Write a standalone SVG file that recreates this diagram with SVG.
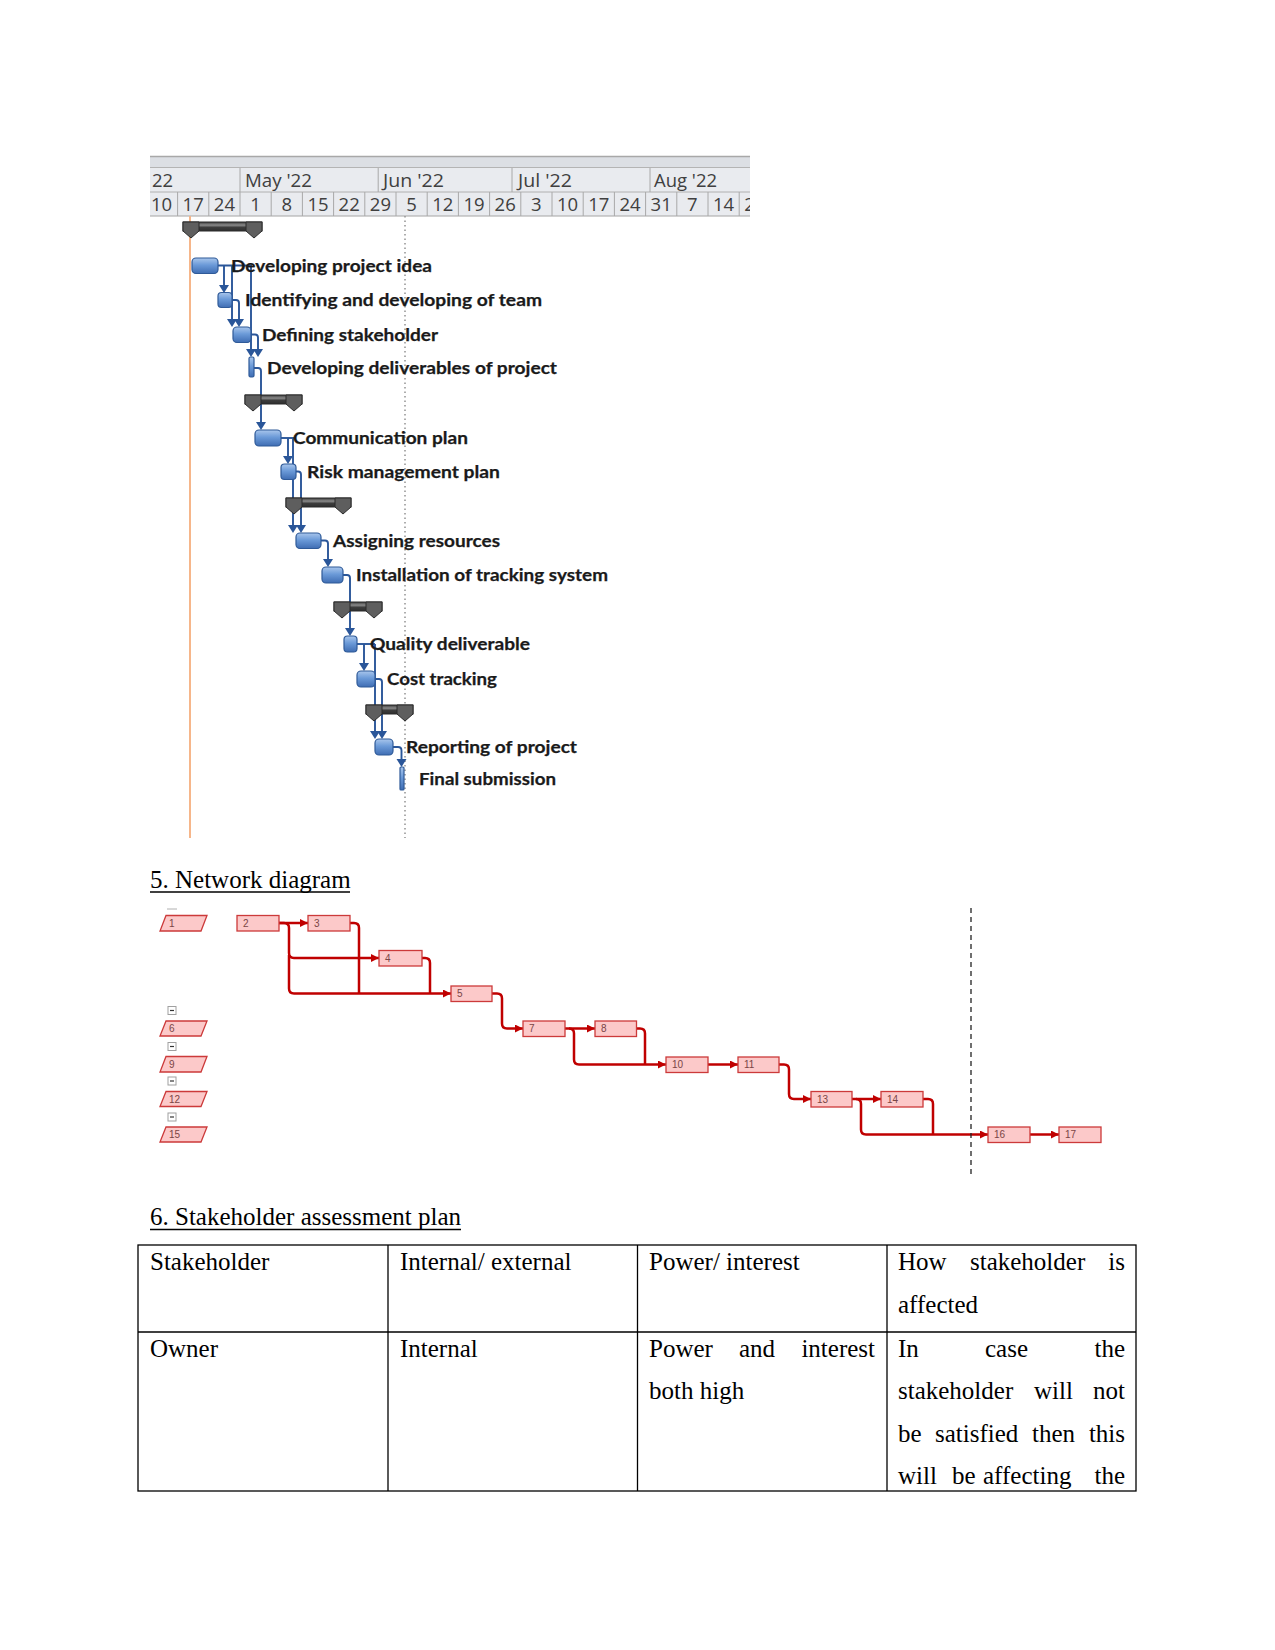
<svg xmlns="http://www.w3.org/2000/svg" width="1275" height="1650" viewBox="0 0 1275 1650">
<defs>
<style>
.hdr{font-family:"Open Sans","Liberation Sans",sans-serif;font-size:18.5px;fill:#404040}
.day{text-anchor:middle}
.tl{font-family:Lato,"Liberation Sans",sans-serif;font-size:17.5px;font-weight:700;fill:#1a1a1a;stroke:#1a1a1a;stroke-width:0.25}
.bar{fill:url(#bg);stroke:#2f5a98;stroke-width:1.2}
.gc{fill:none;stroke:#2a5699;stroke-width:1.9}
.ga{fill:#2a5699}
.sumbar{fill:url(#sg);stroke:#2b2b2b;stroke-width:1}
.cap{fill:#5e5e5e;stroke:#2b2b2b;stroke-width:1}
.nd{fill:#fcc9c9;stroke:#cc3a3a;stroke-width:1.3}
.nt{font-family:"Liberation Sans",Arial,sans-serif;font-size:10px;fill:#7a4545}
.nc{fill:none;stroke:#c00000;stroke-width:2.5}
.mb{fill:#fff;stroke:#a0a0a0;stroke-width:1}
.tt{font-family:"Liberation Serif","Times New Roman",serif;font-size:25px;fill:#000}
.end{text-anchor:end}
.tb{stroke:#000;stroke-width:1.3;fill:none}
</style>
<linearGradient id="bg" x1="0" y1="0" x2="0" y2="1">
<stop offset="0" stop-color="#a9c6ec"/>
<stop offset="0.45" stop-color="#6b9ad8"/>
<stop offset="1" stop-color="#3f6db3"/>
</linearGradient>
<linearGradient id="sg" x1="0" y1="0" x2="0" y2="1">
<stop offset="0" stop-color="#3a3a3a"/>
<stop offset="0.35" stop-color="#8a8a8a"/>
<stop offset="0.6" stop-color="#3c3c3c"/>
<stop offset="1" stop-color="#2e2e2e"/>
</linearGradient>
<marker id="ra" markerWidth="10" markerHeight="10" refX="8" refY="4" orient="auto" markerUnits="userSpaceOnUse">
<path d="M0,0 L8,4 L0,8 Z" fill="#c00000"/>
</marker>
<clipPath id="hc"><rect x="150" y="150" width="600" height="70"/></clipPath>
</defs>
<rect width="1275" height="1650" fill="#fff"/>

<!-- Gantt header -->
<g id="gantt-header" clip-path="url(#hc)">
<rect x="150" y="156" width="600" height="60" fill="#e9ebef"/>
<rect x="150" y="156" width="600" height="11" fill="#dcdfe4"/>
<line x1="150" y1="156.5" x2="750" y2="156.5" stroke="#a8a8a8" stroke-width="1.5"/>
<line x1="150" y1="167.5" x2="750" y2="167.5" stroke="#b4b4b4"/>
<line x1="150" y1="192" x2="750" y2="192" stroke="#b0b0b0"/>
<line x1="150" y1="216" x2="750" y2="216" stroke="#a4a4a4"/>
<g stroke="#a8a8a8" stroke-width="1">
<line x1="240" y1="168" x2="240" y2="192"/>
<line x1="378.2" y1="168" x2="378.2" y2="192"/>
<line x1="512" y1="168" x2="512" y2="192"/>
<line x1="650" y1="168" x2="650" y2="192"/>
<line x1="177.6" y1="192" x2="177.6" y2="216"/>
<line x1="208.8" y1="192" x2="208.8" y2="216"/>
<line x1="240" y1="192" x2="240" y2="216"/>
<line x1="271.2" y1="192" x2="271.2" y2="216"/>
<line x1="302.4" y1="192" x2="302.4" y2="216"/>
<line x1="333.6" y1="192" x2="333.6" y2="216"/>
<line x1="364.8" y1="192" x2="364.8" y2="216"/>
<line x1="396" y1="192" x2="396" y2="216"/>
<line x1="427.2" y1="192" x2="427.2" y2="216"/>
<line x1="458.4" y1="192" x2="458.4" y2="216"/>
<line x1="489.6" y1="192" x2="489.6" y2="216"/>
<line x1="520.8" y1="192" x2="520.8" y2="216"/>
<line x1="552" y1="192" x2="552" y2="216"/>
<line x1="583.2" y1="192" x2="583.2" y2="216"/>
<line x1="614.4" y1="192" x2="614.4" y2="216"/>
<line x1="645.6" y1="192" x2="645.6" y2="216"/>
<line x1="676.8" y1="192" x2="676.8" y2="216"/>
<line x1="708" y1="192" x2="708" y2="216"/>
<line x1="739.2" y1="192" x2="739.2" y2="216"/>
</g>
<text class="hdr" x="152" y="187">22</text>
<text class="hdr" x="245" y="187" textLength="67" lengthAdjust="spacingAndGlyphs">May '22</text>
<text class="hdr" x="383" y="187" textLength="61" lengthAdjust="spacingAndGlyphs">Jun '22</text>
<text class="hdr" x="518" y="187" textLength="54" lengthAdjust="spacingAndGlyphs">Jul '22</text>
<text class="hdr" x="654" y="187" textLength="63" lengthAdjust="spacingAndGlyphs">Aug '22</text>
<g class="hdr day">
<text x="161.5" y="210.5">10</text>
<text x="193.2" y="210.5">17</text>
<text x="224.4" y="210.5">24</text>
<text x="255.6" y="210.5">1</text>
<text x="286.8" y="210.5">8</text>
<text x="318" y="210.5">15</text>
<text x="349.2" y="210.5">22</text>
<text x="380.4" y="210.5">29</text>
<text x="411.6" y="210.5">5</text>
<text x="442.8" y="210.5">12</text>
<text x="474" y="210.5">19</text>
<text x="505.2" y="210.5">26</text>
<text x="536.4" y="210.5">3</text>
<text x="567.6" y="210.5">10</text>
<text x="598.8" y="210.5">17</text>
<text x="630" y="210.5">24</text>
<text x="661.2" y="210.5">31</text>
<text x="692.4" y="210.5">7</text>
<text x="723.6" y="210.5">14</text>
<text x="754.8" y="210.5">21</text>
</g>
</g>

<!-- Gantt guide lines -->
<line x1="190" y1="216" x2="190" y2="838" stroke="#f6b68a" stroke-width="2"/>
<line x1="405" y1="216" x2="405" y2="838" stroke="#999" stroke-width="1.6" stroke-dasharray="1.5 3"/>

<!-- Gantt connectors -->
<g id="gantt-connectors">
<path class="gc" d="M218,265.5 H252"/>
<path class="gc" d="M224,265.5 V286"/>
<path class="gc" d="M232,265.5 V320"/>
<path class="gc" d="M251,265.5 V350"/>
<path class="gc" d="M232,300 H236 Q239,300 239,303 V320"/>
<path class="gc" d="M251,334.5 H255 Q258,334.5 258,337.5 V350"/>
<path class="gc" d="M254,368 H258 Q261,368 261,371 V423"/>
<path class="gc" d="M281,438 H294"/>
<path class="gc" d="M288,438 V457"/>
<path class="gc" d="M293,438 V526"/>
<path class="gc" d="M296,471.5 H298 Q301,471.5 301,474.5 V526"/>
<path class="gc" d="M321,540.5 H325 Q328,540.5 328,543.5 V560"/>
<path class="gc" d="M343,575 H347 Q350,575 350,578 V629"/>
<path class="gc" d="M357,644 H375"/>
<path class="gc" d="M364,644 V664"/>
<path class="gc" d="M375,644 V732"/>
<path class="gc" d="M375,679 H379 Q382,679 382,682 V732"/>
<path class="gc" d="M393,747 H398 Q401.5,747 401.5,750.5 V760"/>
<polygon class="ga" points="219,285 229,285 224,293"/>
<polygon class="ga" points="227,319 237,319 232,327"/>
<polygon class="ga" points="234,319 244,319 239,327"/>
<polygon class="ga" points="246,349 256,349 251,357"/>
<polygon class="ga" points="253,349 263,349 258,357"/>
<polygon class="ga" points="256,422 266,422 261,430"/>
<polygon class="ga" points="283,456 293,456 288,464"/>
<polygon class="ga" points="288,525 298,525 293,533"/>
<polygon class="ga" points="296,525 306,525 301,533"/>
<polygon class="ga" points="323,559 333,559 328,567"/>
<polygon class="ga" points="345,628 355,628 350,636"/>
<polygon class="ga" points="359,663 369,663 364,671"/>
<polygon class="ga" points="370,731 380,731 375,739"/>
<polygon class="ga" points="377,731 387,731 382,739"/>
<polygon class="ga" points="396.5,759 406.5,759 401.5,767"/>
</g>

<!-- Gantt summary bars -->
<g id="summary-1">
<rect class="sumbar" x="183" y="222" width="79" height="9"/>
<path class="cap" d="M183,222 H199 V231 L191,238 L183,231 Z"/>
<path class="cap" d="M246,222 H262 V231 L254,238 L246,231 Z"/>
</g>
<g id="summary-2">
<rect class="sumbar" x="245" y="395" width="57" height="9"/>
<path class="cap" d="M245,395 H261 V404 L253,411 L245,404 Z"/>
<path class="cap" d="M286,395 H302 V404 L294,411 L286,404 Z"/>
</g>
<g id="summary-3">
<rect class="sumbar" x="286" y="498" width="65" height="9"/>
<path class="cap" d="M286,498 H302 V507 L294,514 L286,507 Z"/>
<path class="cap" d="M335,498 H351 V507 L343,514 L335,507 Z"/>
</g>
<g id="summary-4">
<rect class="sumbar" x="334" y="602" width="48" height="9"/>
<path class="cap" d="M334,602 H350 V611 L342,618 L334,611 Z"/>
<path class="cap" d="M366,602 H382 V611 L374,618 L366,611 Z"/>
</g>
<g id="summary-5">
<rect class="sumbar" x="366" y="705" width="47" height="9"/>
<path class="cap" d="M366,705 H382 V714 L374,721 L366,714 Z"/>
<path class="cap" d="M397,705 H413 V714 L405,721 L397,714 Z"/>
</g>

<!-- Gantt tasks -->
<g id="task-developing-project-idea">
<rect class="bar" x="192" y="258" width="26" height="15.5" rx="4"/>
<text class="tl" x="231" y="271.5" textLength="201" lengthAdjust="spacingAndGlyphs">Developing project idea</text>
</g>
<g id="task-identifying-team">
<rect class="bar" x="218" y="292.5" width="14" height="15" rx="3.5"/>
<text class="tl" x="245" y="306" textLength="297" lengthAdjust="spacingAndGlyphs">Identifying and developing of team</text>
</g>
<g id="task-defining-stakeholder">
<rect class="bar" x="233" y="327" width="18" height="15.5" rx="4"/>
<text class="tl" x="262" y="340.5" textLength="176" lengthAdjust="spacingAndGlyphs">Defining stakeholder</text>
</g>
<g id="task-developing-deliverables">
<rect class="bar" x="249" y="357" width="5" height="20" rx="1.5"/>
<text class="tl" x="267" y="373.5" textLength="290" lengthAdjust="spacingAndGlyphs">Developing deliverables of project</text>
</g>
<g id="task-communication-plan">
<rect class="bar" x="255" y="430" width="26" height="16" rx="4"/>
<text class="tl" x="293" y="444" textLength="175" lengthAdjust="spacingAndGlyphs">Communication plan</text>
</g>
<g id="task-risk-management-plan">
<rect class="bar" x="281" y="464" width="15" height="15.5" rx="3.5"/>
<text class="tl" x="307" y="477.5" textLength="193" lengthAdjust="spacingAndGlyphs">Risk management plan</text>
</g>
<g id="task-assigning-resources">
<rect class="bar" x="296" y="533" width="25" height="15.5" rx="4"/>
<text class="tl" x="333" y="546.5" textLength="167" lengthAdjust="spacingAndGlyphs">Assigning resources</text>
</g>
<g id="task-installation-tracking">
<rect class="bar" x="322" y="567" width="21" height="16" rx="4"/>
<text class="tl" x="356" y="581" textLength="252" lengthAdjust="spacingAndGlyphs">Installation of tracking system</text>
</g>
<g id="task-quality-deliverable">
<rect class="bar" x="344" y="636" width="13" height="16" rx="3.5"/>
<text class="tl" x="370" y="650" textLength="160" lengthAdjust="spacingAndGlyphs">Quality deliverable</text>
</g>
<g id="task-cost-tracking">
<rect class="bar" x="357" y="671" width="18" height="16" rx="4"/>
<text class="tl" x="387" y="685" textLength="110" lengthAdjust="spacingAndGlyphs">Cost tracking</text>
</g>
<g id="task-reporting">
<rect class="bar" x="375" y="739" width="18" height="16" rx="4"/>
<text class="tl" x="406" y="753" textLength="171" lengthAdjust="spacingAndGlyphs">Reporting of project</text>
</g>
<g id="task-final-submission">
<rect class="bar" x="400" y="767" width="4" height="23" rx="1"/>
<text class="tl" x="419" y="785" textLength="137" lengthAdjust="spacingAndGlyphs">Final submission</text>
</g>

<!-- Section 5 heading -->
<g id="heading-network">
<text class="tt" x="150" y="887.5">5. Network diagram</text>
<line x1="150" y1="892" x2="350" y2="892" stroke="#000" stroke-width="1.4"/>
</g>

<!-- Network connectors -->
<g id="network-connectors">
<path class="nc" d="M279,923 H308" marker-end="url(#ra)"/>
<path class="nc" d="M279,923 H284 Q289,923 289,928 V953 Q289,958 294,958 H379" marker-end="url(#ra)"/>
<path class="nc" d="M289,955 V988.5 Q289,993.5 294,993.5 H451" marker-end="url(#ra)"/>
<path class="nc" d="M350,923 H354 Q359,923 359,928 V993.5"/>
<path class="nc" d="M422,958 H425 Q430,958 430,963 V993.5"/>
<path class="nc" d="M492,993.5 H497 Q502,993.5 502,998.5 V1023.5 Q502,1028.5 507,1028.5 H523" marker-end="url(#ra)"/>
<path class="nc" d="M565,1028.5 H595" marker-end="url(#ra)"/>
<path class="nc" d="M569,1028.5 Q574,1028.5 574,1033.5 V1059.5 Q574,1064.5 579,1064.5 H666" marker-end="url(#ra)"/>
<path class="nc" d="M636.5,1028.5 H640 Q645,1028.5 645,1033.5 V1064.5"/>
<path class="nc" d="M708,1064.5 H738" marker-end="url(#ra)"/>
<path class="nc" d="M779,1064.5 H784 Q789,1064.5 789,1069.5 V1094 Q789,1099 794,1099 H811" marker-end="url(#ra)"/>
<path class="nc" d="M852,1099 H881" marker-end="url(#ra)"/>
<path class="nc" d="M856,1099 Q861,1099 861,1104 V1129.5 Q861,1134.5 866,1134.5 H988" marker-end="url(#ra)"/>
<path class="nc" d="M923,1099 H928 Q933,1099 933,1104 V1134.5"/>
<path class="nc" d="M1030,1134.5 H1059" marker-end="url(#ra)"/>
</g>
<line id="status-date" x1="971" y1="908" x2="971" y2="1176" stroke="#222" stroke-width="1.3" stroke-dasharray="5 4"/>

<!-- Network left column -->
<line x1="167" y1="909" x2="177" y2="909" stroke="#b0b0b0" stroke-width="1"/>
<g id="net-node-1">
<polygon class="nd" points="166,915.5 207,915.5 201,931 160,931"/>
<text class="nt" x="169" y="926.5">1</text>
</g>
<g id="net-collapse-6">
<rect class="mb" x="168" y="1006.5" width="8" height="8"/>
<line x1="170" y1="1010.5" x2="174" y2="1010.5" stroke="#333" stroke-width="1.2"/>
</g>
<g id="net-node-6">
<polygon class="nd" points="166,1021 207,1021 201,1036 160,1036"/>
<text class="nt" x="169" y="1032">6</text>
</g>
<g id="net-collapse-9">
<rect class="mb" x="168" y="1042.5" width="8" height="8"/>
<line x1="170" y1="1046.5" x2="174" y2="1046.5" stroke="#333" stroke-width="1.2"/>
</g>
<g id="net-node-9">
<polygon class="nd" points="166,1056.5 207,1056.5 201,1072 160,1072"/>
<text class="nt" x="169" y="1068">9</text>
</g>
<g id="net-collapse-12">
<rect class="mb" x="168" y="1077" width="8" height="8"/>
<line x1="170" y1="1081" x2="174" y2="1081" stroke="#333" stroke-width="1.2"/>
</g>
<g id="net-node-12">
<polygon class="nd" points="166,1091.5 207,1091.5 201,1106.5 160,1106.5"/>
<text class="nt" x="169" y="1102.5">12</text>
</g>
<g id="net-collapse-15">
<rect class="mb" x="168" y="1113" width="8" height="8"/>
<line x1="170" y1="1117" x2="174" y2="1117" stroke="#333" stroke-width="1.2"/>
</g>
<g id="net-node-15">
<polygon class="nd" points="166,1127 207,1127 201,1142 160,1142"/>
<text class="nt" x="169" y="1138">15</text>
</g>

<!-- Network nodes -->
<g id="net-node-2"><rect class="nd" x="237" y="915.5" width="42" height="15.5"/><text class="nt" x="243" y="926.5">2</text></g>
<g id="net-node-3"><rect class="nd" x="308" y="915.5" width="42" height="15.5"/><text class="nt" x="314" y="926.5">3</text></g>
<g id="net-node-4"><rect class="nd" x="379" y="950.5" width="43" height="15.5"/><text class="nt" x="385" y="961.5">4</text></g>
<g id="net-node-5"><rect class="nd" x="451" y="986" width="41" height="15.5"/><text class="nt" x="457" y="997">5</text></g>
<g id="net-node-7"><rect class="nd" x="523" y="1021" width="42" height="15.5"/><text class="nt" x="529" y="1032">7</text></g>
<g id="net-node-8"><rect class="nd" x="595" y="1021" width="41.5" height="15.5"/><text class="nt" x="601" y="1032">8</text></g>
<g id="net-node-10"><rect class="nd" x="666" y="1057" width="42" height="15.5"/><text class="nt" x="672" y="1068">10</text></g>
<g id="net-node-11"><rect class="nd" x="738" y="1057" width="41" height="15.5"/><text class="nt" x="744" y="1068">11</text></g>
<g id="net-node-13"><rect class="nd" x="811" y="1091.5" width="41" height="15.5"/><text class="nt" x="817" y="1102.5">13</text></g>
<g id="net-node-14"><rect class="nd" x="881" y="1091.5" width="42" height="15.5"/><text class="nt" x="887" y="1102.5">14</text></g>
<g id="net-node-16"><rect class="nd" x="988" y="1127" width="42" height="15.5"/><text class="nt" x="994" y="1138">16</text></g>
<g id="net-node-17"><rect class="nd" x="1059" y="1127" width="42" height="15.5"/><text class="nt" x="1065" y="1138">17</text></g>

<!-- Section 6 heading -->
<g id="heading-stakeholder">
<text class="tt" x="150" y="1225">6. Stakeholder assessment plan</text>
<line x1="150" y1="1229.5" x2="461" y2="1229.5" stroke="#000" stroke-width="1.4"/>
</g>

<!-- Table -->
<g id="stakeholder-table">
<rect class="tb" x="138" y="1245" width="998" height="246"/>
<line class="tb" x1="138" y1="1332" x2="1136" y2="1332"/>
<line class="tb" x1="388" y1="1245" x2="388" y2="1491"/>
<line class="tb" x1="637.5" y1="1245" x2="637.5" y2="1491"/>
<line class="tb" x1="887" y1="1245" x2="887" y2="1491"/>
<text class="tt" x="150" y="1270">Stakeholder</text>
<text class="tt" x="400" y="1270">Internal/ external</text>
<text class="tt" x="649" y="1270">Power/ interest</text>
<text class="tt" x="898" y="1270">How</text>
<text class="tt" x="970" y="1270">stakeholder</text>
<text class="tt end" x="1125" y="1270">is</text>
<text class="tt" x="898" y="1312.5">affected</text>
<text class="tt" x="150" y="1356.5">Owner</text>
<text class="tt" x="400" y="1356.5">Internal</text>
<text class="tt" x="649" y="1356.5">Power</text>
<text class="tt" x="739" y="1356.5">and</text>
<text class="tt end" x="875" y="1356.5">interest</text>
<text class="tt" x="649" y="1399">both high</text>
<text class="tt" x="898" y="1356.5">In</text>
<text class="tt" x="985" y="1356.5">case</text>
<text class="tt end" x="1125" y="1356.5">the</text>
<text class="tt" x="898" y="1399">stakeholder</text>
<text class="tt" x="1034" y="1399">will</text>
<text class="tt end" x="1125" y="1399">not</text>
<text class="tt" x="898" y="1441.5">be</text>
<text class="tt" x="935" y="1441.5">satisfied</text>
<text class="tt" x="1032" y="1441.5">then</text>
<text class="tt end" x="1125" y="1441.5">this</text>
<text class="tt" x="898" y="1484">will</text>
<text class="tt" x="952" y="1484">be</text>
<text class="tt" x="983" y="1484">affecting</text>
<text class="tt end" x="1125" y="1484">the</text>
</g>
</svg>
